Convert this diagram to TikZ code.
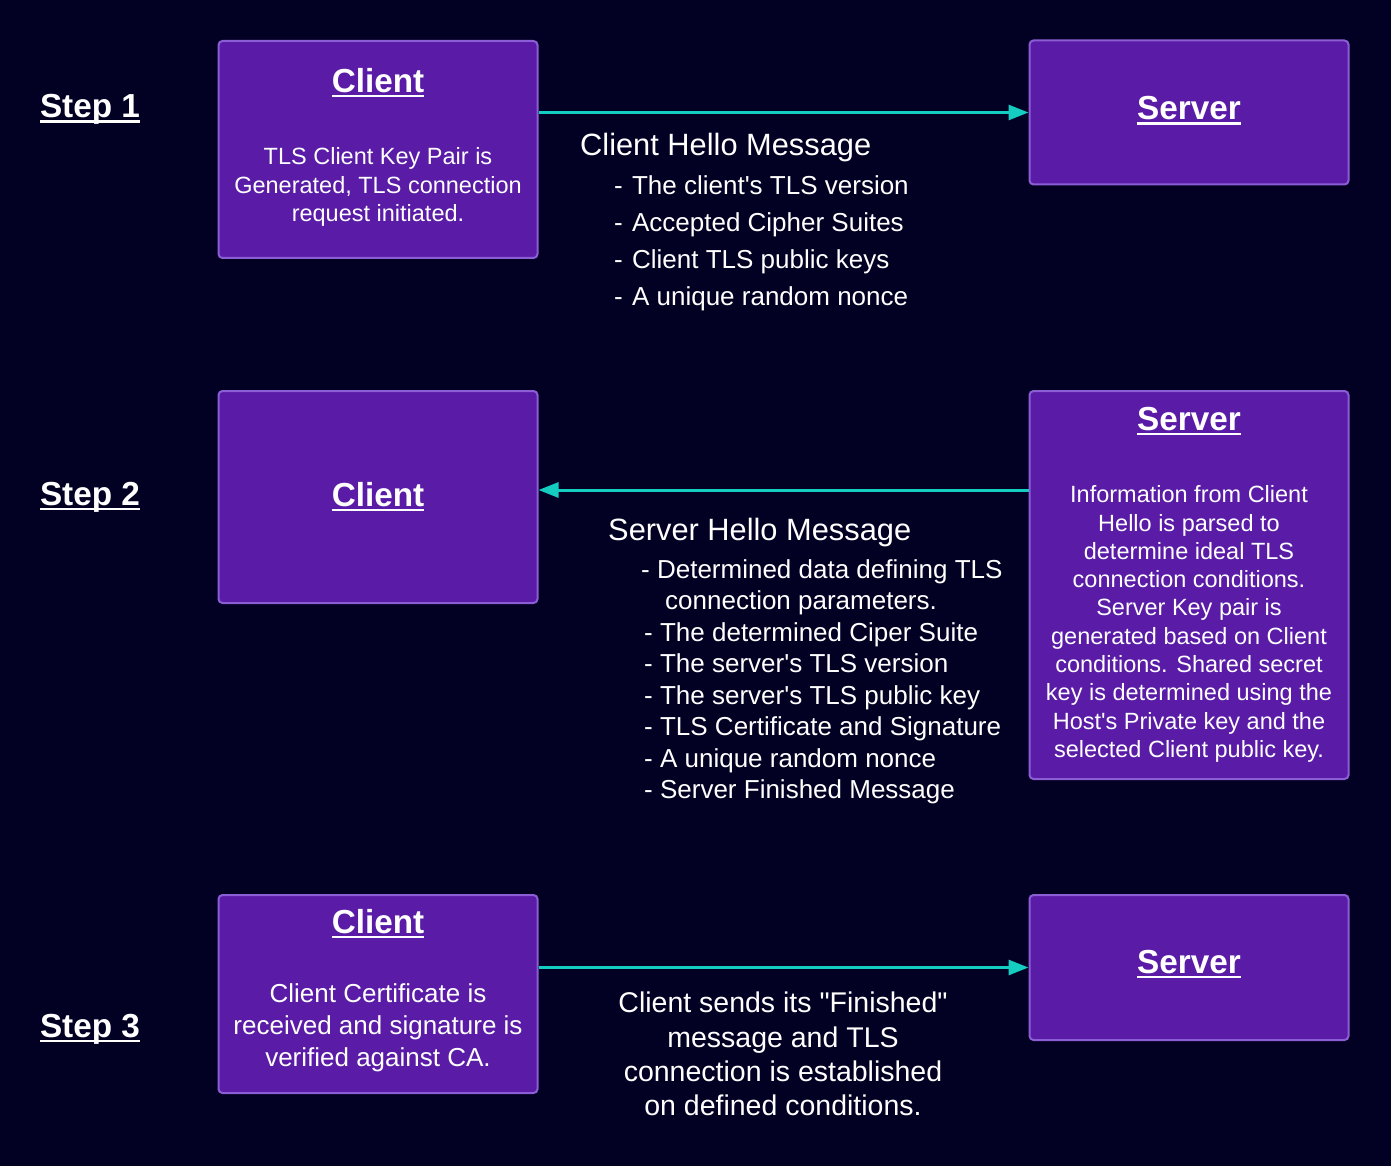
\documentclass[tikz,border=0pt]{standalone}
\usepackage{fontspec}
\setmainfont{Liberation Sans}[Ligatures=TeXOff]
\usetikzlibrary{arrows.meta}
\definecolor{bgnavy}{HTML}{020124}
\definecolor{boxfill}{HTML}{5A1BA6}
\definecolor{boxedge}{HTML}{8C5ED6}
\definecolor{msgteal}{HTML}{14CCBF}
\newcommand{\undl}[1]{\setbox0\hbox{#1}\rlap{\rule[-5pt]{\wd0}{2.5pt}}\box0}
\tikzset{
  hostbox/.style={draw=boxedge,fill=boxfill,line width=2pt,rounded corners=4pt,
    minimum width=319pt,inner sep=0pt},
  title/.style={font=\fontsize{33.3}{40}\selectfont\bfseries,text=white,inner sep=0pt,anchor=base},
  body/.style={text=white,inner sep=0pt,align=center,anchor=north},
  msgtext/.style={text=white,inner sep=0pt,align=left,anchor=north west},
  msg/.style={draw=msgteal,line width=3pt,-{Triangle[length=20pt,width=15pt]}}
}
\begin{document}
\begin{tikzpicture}[x=1pt,y=-1pt]
  \useasboundingbox (0,0) rectangle (1391,1166);
  \fill[bgnavy] (0,0) rectangle (1391,1166);
%%% step labels
  \node[title] (st1) at (90,118) {\undl{Step 1}};
  \node[title] (st2) at (90,505) {\undl{Step 2}};
  \node[title] (st3) at (90,1037) {\undl{Step 3}};
%%% step 1
  \node[hostbox,minimum height=217pt] (c1) at (378,149.5) {};
  \node[hostbox,minimum height=144pt] (s1) at (1189,112.5) {};
  \node[title] (c1t) at (378,92.5) {\undl{Client}};
  \node[body,font=\fontsize{23.5}{28.3}\selectfont] (c1b) at (378,147.5)
    {TLS Client Key Pair is\\Generated, TLS connection\\request initiated.};
  \node[title] (s1t) at (1189,120) {\undl{Server}};
  \draw[msg] (c1.east |- s1.west) -- (s1.west);
  \node[text=white,inner sep=0pt,anchor=base west,font=\fontsize{30.8}{36}\selectfont]
    (hello1) at (580,156) {Client Hello Message};
  \node[msgtext,font=\fontsize{26}{37}\selectfont] (list1) at (614,175)
    {-\hspace{2pt} The client's TLS version\\-\hspace{2pt} Accepted Cipher Suites\\
     -\hspace{2pt} Client TLS public keys\\-\hspace{2pt} A unique random nonce};
%%% step 2
  \node[hostbox,minimum height=212pt] (c2) at (378,497) {};
  \node[hostbox,minimum height=388pt] (s2) at (1189,585) {};
  \node[title] (c2t) at (378,506) {\undl{Client}};
  \node[title] (s2t) at (1189,430) {\undl{Server}};
  \node[body,font=\fontsize{23.5}{28.3}\selectfont] (s2b) at (1189,485.5)
    {Information from Client\\Hello is parsed to\\determine ideal TLS\\connection conditions.\\
     Server Key pair is\\generated based on Client\\conditions. Shared secret\\
     key is determined using the\\Host's Private key and the\\selected Client public key.};
  \draw[msg] (s2.west |- 0,490) -- (c2.east |- 0,490);
  \node[text=white,inner sep=0pt,anchor=base west,font=\fontsize{30.8}{36}\selectfont]
    (hello2) at (608,540) {Server Hello Message};
  \node[msgtext,font=\fontsize{26}{31.5}\selectfont] (list2) at (644,559)
    {\hspace*{-3pt}- Determined data defining TLS\\\hspace*{21pt}connection parameters.\\
     - The determined Ciper Suite\\- The server's TLS version\\- The server's TLS public key\\
     - TLS Certificate and Signature\\- A unique random nonce\\- Server Finished Message};
%%% step 3
  \node[hostbox,minimum height=198pt] (c3) at (378,994) {};
  \node[hostbox,minimum height=145pt] (s3) at (1189,967.5) {};
  \node[title] (c3t) at (378,933) {\undl{Client}};
  \node[body,font=\fontsize{26}{32}\selectfont] (c3b) at (378,983.5)
    {Client Certificate is\\received and signature is\\verified against CA.};
  \node[title] (s3t) at (1189,973) {\undl{Server}};
  \draw[msg] (c3.east |- s3.west) -- (s3.west);
  \node[body,font=\fontsize{28.5}{34.3}\selectfont] (fin) at (783,992)
    {Client sends its "Finished"\\message and TLS\\connection is established\\on defined conditions.};
\end{tikzpicture}
\end{document}
